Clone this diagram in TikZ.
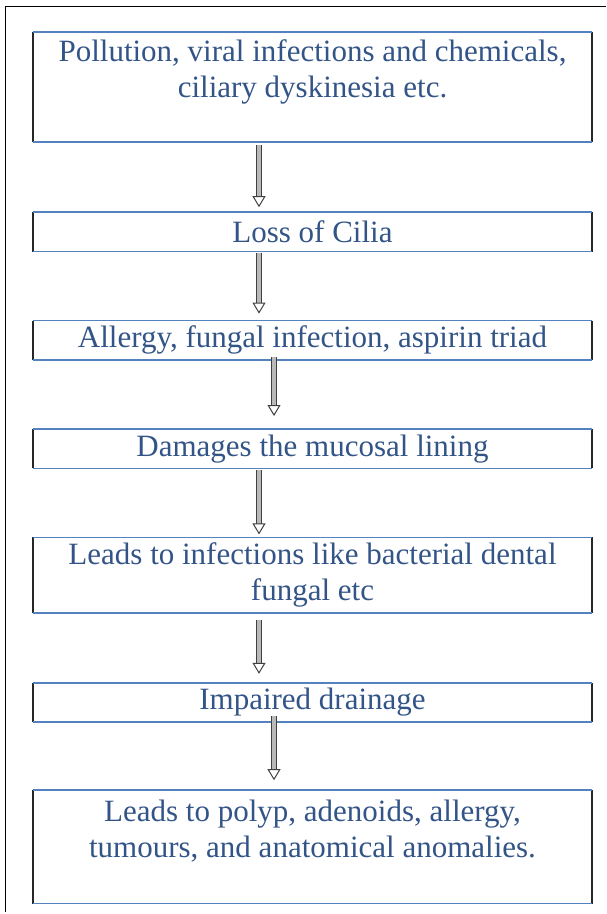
\documentclass[tikz,border=0pt]{standalone}
\usepackage{fontspec}
\setmainfont{Liberation Serif}
\usepackage{xcolor}
\usetikzlibrary{arrows.meta, positioning}

\definecolor{textblue}{RGB}{50,84,135}
\definecolor{edgeblue}{RGB}{84,130,190}

\begin{document}
\begin{tikzpicture}[
    x=1pt, y=1pt,
    node distance=70pt,
    every node/.style={font=\fontsize{31}{36}\selectfont},
    box/.style={rectangle, align=center, text=textblue, inner sep=2pt,
                minimum width=559pt, minimum height=39pt},
    sideline/.style={draw=black!85, line width=1.6pt},
    capline/.style={draw=edgeblue, line width=1.6pt},
    blockarrow/.style={draw=black!75, double=gray!55, double distance=3.2pt,
                       line width=1pt, -{Triangle[open, length=11pt, width=13pt]}}
  ]
  \useasboundingbox (0,0) rectangle (606,-914);

  % frame (top and left only)
  \draw[line width=1pt] (606,-6) -- (5,-6) -- (5,-912);

  \node[box, minimum height=110pt] (pollution) at (312.5,-87)
       {Pollution, viral infections and chemicals,\\ ciliary dyskinesia etc.\\ \mbox{}};
  \node[box, below=of pollution] (cilia) {Loss of Cilia};
  \node[box, below=69pt of cilia] (allergy) {Allergy, fungal infection, aspirin triad};
  \node[box, below=69pt of allergy] (mucosa) {Damages the mucosal lining};
  \node[box, below=69pt of mucosa, minimum height=75pt] (infect)
       {Leads to infections like bacterial dental\\ fungal etc};
  \node[box, below=70pt of infect] (drainage) {Impaired drainage};
  \node[box, below=68pt of drainage, minimum height=113pt] (polyp)
       {Leads to polyp, adenoids, allergy,\\ tumours, and anatomical anomalies.\\ \mbox{}};

  % box edges: black sides, blue top and bottom
  \foreach \n in {pollution, cilia, allergy, mucosa, infect, drainage, polyp} {
    \draw[sideline] (\n.north west) -- (\n.south west);
    \draw[sideline] (\n.north east) -- (\n.south east);
    \draw[capline] (\n.north west) -- (\n.north east);
    \draw[capline] (\n.south west) -- (\n.south east);
  }

  \draw[blockarrow, shorten <=3pt, shorten >=5pt]
    ([xshift=-53.5pt]pollution.south) -- ([xshift=-53.5pt]cilia.north);
  \draw[blockarrow, shorten <=1pt, shorten >=7pt]
    ([xshift=-53.5pt]cilia.south) -- ([xshift=-53.5pt]allergy.north);
  \draw[blockarrow, shorten <=-3pt, shorten >=13pt]
    ([xshift=-38.5pt]allergy.south) -- ([xshift=-38.5pt]mucosa.north);
  \draw[blockarrow, shorten <=2pt, shorten >=3pt]
    ([xshift=-53.5pt]mucosa.south) -- ([xshift=-53.5pt]infect.north);
  \draw[blockarrow, shorten <=7pt, shorten >=9pt]
    ([xshift=-53.5pt]infect.south) -- ([xshift=-53.5pt]drainage.north);
  \draw[blockarrow, shorten <=-6pt, shorten >=10pt]
    ([xshift=-38.5pt]drainage.south) -- ([xshift=-38.5pt]polyp.north);
\end{tikzpicture}
\end{document}
